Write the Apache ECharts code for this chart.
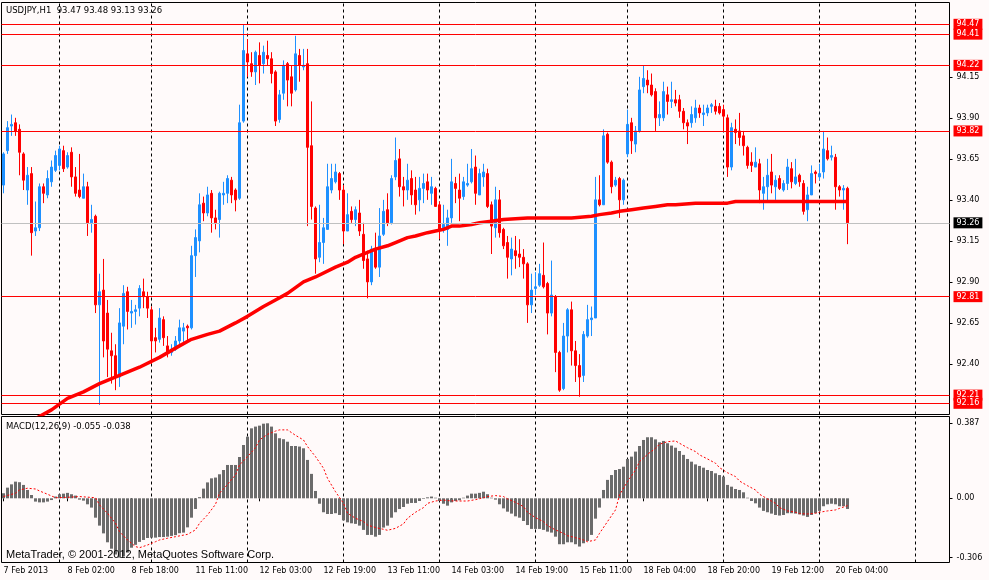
<!DOCTYPE html>
<html><head><meta charset="utf-8">
<script src="https://cdn.jsdelivr.net/npm/echarts@6/dist/echarts.min.js"></script>
<style>html,body{margin:0;padding:0;background:#fffafa;}#c{width:989px;height:580px;}</style>
</head><body><div id="c"></div>
<script>
// ---- DATA ----
const opens = [93.49,93.70,93.85,93.87,93.83,93.68,93.46,93.56,93.21,93.23,
93.48,93.43,93.51,93.58,93.61,93.70,93.60,93.69,93.54,93.46,
93.41,93.48,93.26,93.30,92.76,92.85,92.71,92.48,92.45,92.32,
92.63,92.84,92.71,92.72,92.74,92.84,92.81,92.73,92.56,92.55,
92.67,92.51,92.47,92.49,92.54,92.60,92.63,92.62,93.06,93.15,
93.38,93.32,93.44,93.29,93.28,93.43,93.44,93.52,93.46,93.41,
93.88,94.29,94.23,94.18,94.28,94.23,94.28,94.26,94.18,93.89,
94.05,94.23,94.15,94.07,94.28,94.21,94.23,93.73,93.35,93.05,
93.14,93.22,93.46,93.51,93.56,93.46,93.21,93.33,93.28,93.32,
93.19,93.04,92.90,93.10,92.99,93.19,93.34,93.26,93.54,93.65,
93.48,93.46,93.53,93.46,93.40,93.47,93.51,93.44,93.47,93.37,
93.22,93.22,93.29,93.50,93.46,93.42,93.49,93.51,93.60,93.43,
93.54,93.56,93.37,93.23,93.40,93.22,93.14,93.04,93.09,93.07,
93.05,93.01,92.76,92.86,92.88,92.94,92.89,92.71,92.81,92.47,
92.25,92.57,92.73,92.48,92.39,92.33,92.57,92.67,92.68,93.40,
93.37,93.80,93.63,93.49,93.53,93.40,93.68,93.87,93.74,93.82,
94.09,94.13,94.10,94.06,93.90,93.90,94.04,94.00,94.01,94.01,
93.94,93.87,93.87,93.90,93.96,93.92,93.93,93.97,93.97,93.97,
93.95,93.90,93.60,93.83,93.82,93.79,93.72,93.63,93.60,93.62,
93.44,93.48,93.57,93.48,93.53,93.46,93.50,93.59,93.50,93.55,
93.50,93.34,93.43,93.57,93.54,93.57,93.70,93.66,93.66,93.48,
93.46,93.47];
const highs = [93.69,93.88,93.92,93.90,93.86,93.69,93.60,93.60,93.39,93.50,
93.50,93.58,93.64,93.70,93.73,93.73,93.69,93.72,93.60,93.68,
93.56,93.51,93.37,93.31,92.95,93.04,92.79,92.59,92.52,92.74,
92.88,92.87,92.79,92.76,92.88,92.92,92.84,92.75,92.62,92.74,
92.69,92.57,92.52,92.57,92.67,92.65,92.64,93.12,93.22,93.44,
93.42,93.48,93.46,93.34,93.45,93.51,93.55,93.54,93.47,93.98,
94.47,94.38,94.30,94.31,94.36,94.34,94.37,94.30,94.19,94.07,
94.25,94.24,94.22,94.40,94.32,94.32,94.32,94.00,93.36,93.37,
93.29,93.62,93.62,93.62,93.57,93.49,93.44,93.36,93.36,93.40,
93.26,93.09,93.12,93.20,93.35,93.40,93.44,93.55,93.78,93.71,
93.54,93.62,93.58,93.54,93.54,93.56,93.56,93.54,93.48,93.39,
93.37,93.34,93.65,93.54,93.56,93.54,93.62,93.71,93.67,93.59,
93.62,93.59,93.39,93.48,93.46,93.23,93.18,93.17,93.18,93.16,
93.10,93.02,92.95,92.96,93.01,93.14,92.90,93.03,92.82,92.48,
92.65,92.74,92.78,92.54,92.46,92.60,92.76,92.75,93.54,93.55,
93.83,93.81,93.64,93.54,93.54,93.53,93.95,93.90,93.85,94.15,
94.22,94.19,94.17,94.08,94.00,94.12,94.09,94.12,94.07,94.04,
93.96,93.89,93.97,94.01,93.98,93.98,93.98,93.99,94.01,93.99,
93.98,93.92,93.87,93.89,93.93,93.82,93.73,93.69,93.72,93.65,
93.54,93.65,93.68,93.55,93.55,93.52,93.65,93.63,93.65,93.56,
93.52,93.48,93.61,93.58,93.62,93.82,93.78,93.73,93.68,93.49,
93.49,93.48];
const lows = [93.44,93.68,93.79,93.79,93.55,93.46,93.37,93.06,93.18,93.21,
93.38,93.41,93.48,93.57,93.58,93.57,93.59,93.48,93.42,93.41,
93.41,93.18,93.20,92.71,92.15,92.44,92.32,92.28,92.24,92.26,
92.52,92.61,92.62,92.64,92.69,92.74,92.68,92.40,92.47,92.53,
92.51,92.44,92.45,92.48,92.51,92.53,92.53,92.61,92.93,93.08,
93.27,93.30,93.20,93.22,93.17,93.37,93.38,93.38,93.33,93.40,
93.87,94.15,94.15,94.10,94.11,94.17,94.22,94.11,93.85,93.87,
94.01,93.97,93.97,94.06,94.12,94.19,93.24,93.28,92.95,93.02,
93.01,93.22,93.44,93.50,93.40,93.13,93.21,93.26,93.24,93.18,
92.98,92.80,92.88,92.98,92.93,93.18,93.24,93.25,93.52,93.42,
93.36,93.40,93.37,93.31,93.33,93.38,93.40,93.37,93.36,93.16,
93.20,93.12,93.26,93.38,93.27,93.40,93.48,93.50,93.37,93.43,
93.48,93.35,93.07,93.17,93.17,93.10,92.92,92.94,92.98,92.99,
92.92,92.65,92.71,92.82,92.87,92.86,92.58,92.69,92.35,92.23,
92.24,92.47,92.39,92.29,92.20,92.29,92.56,92.57,92.68,93.36,
93.37,93.62,93.44,93.48,93.29,93.37,93.66,93.68,93.69,93.81,
94.05,94.05,94.03,93.82,93.85,93.88,93.92,93.96,93.97,93.90,
93.83,93.74,93.84,93.87,93.90,93.85,93.91,93.93,93.92,93.92,
93.82,93.54,93.58,93.74,93.73,93.67,93.59,93.57,93.60,93.38,
93.34,93.39,93.44,93.40,93.46,93.45,93.46,93.47,93.49,93.48,
93.31,93.27,93.43,93.50,93.52,93.53,93.64,93.64,93.34,93.42,
93.34,93.13];
const closes = [93.68,93.84,93.86,93.82,93.69,93.52,93.55,93.20,93.23,93.48,
93.44,93.53,93.60,93.67,93.71,93.59,93.67,93.54,93.44,93.42,
93.48,93.26,93.28,92.76,92.84,92.54,92.49,92.45,92.32,92.65,
92.83,92.72,92.72,92.73,92.86,92.81,92.74,92.54,92.54,92.68,
92.56,92.47,92.49,92.54,92.62,92.62,92.62,93.06,93.17,93.37,
93.32,93.43,93.29,93.26,93.44,93.44,93.53,93.43,93.40,93.87,
94.31,94.24,94.18,94.30,94.22,94.30,94.26,94.17,93.88,94.04,
94.22,94.13,94.05,94.29,94.22,94.22,93.72,93.36,93.04,93.14,
93.23,93.48,93.53,93.57,93.46,93.21,93.31,93.28,93.34,93.21,
93.03,92.90,93.10,92.99,93.18,93.33,93.26,93.53,93.64,93.48,
93.46,93.52,93.43,93.37,93.47,93.50,93.46,93.48,93.36,93.22,
93.25,93.29,93.51,93.47,93.41,93.51,93.50,93.59,93.44,93.56,
93.57,93.36,93.24,93.40,93.20,93.12,93.05,93.10,93.06,93.05,
93.01,92.76,92.85,92.87,92.95,92.87,92.71,92.82,92.47,92.24,
92.57,92.73,92.48,92.39,92.32,92.58,92.67,92.68,93.40,93.37,
93.79,93.63,93.48,93.52,93.40,93.52,93.86,93.76,93.82,94.07,
94.14,94.10,94.04,93.90,93.92,94.06,94.00,94.01,93.99,93.94,
93.87,93.85,93.92,93.96,93.93,93.93,93.96,93.98,93.94,93.93,
93.91,93.60,93.84,93.81,93.78,93.73,93.61,93.61,93.63,93.46,
93.48,93.55,93.49,93.52,93.47,93.50,93.60,93.51,93.54,93.51,
93.33,93.43,93.56,93.56,93.56,93.71,93.65,93.67,93.48,93.46,
93.47,93.26];

// moving average read at sampled bars
const maBars = [6,12,16,20,24,29,34,39,44,47,51,54,58,61,65,68,71,75,78,83,86,88,91,93,96,98,101,103,106,108,110,112,114,117,119,122,125,131,137,142,147,149,152,154,157,160,163,166,168,173,181,183,190,200,211];
const maVals = [92.04,92.12,92.19,92.23,92.28,92.33,92.38,92.44,92.51,92.55,92.58,92.60,92.65,92.69,92.75,92.79,92.83,92.90,92.93,92.99,93.02,93.05,93.08,93.10,93.12,93.14,93.17,93.18,93.20,93.21,93.22,93.24,93.24,93.25,93.26,93.27,93.28,93.29,93.29,93.29,93.30,93.31,93.32,93.33,93.34,93.35,93.36,93.37,93.37,93.38,93.38,93.39,93.39,93.39,93.39];

const macdHist = [0.026,0.055,0.072,0.086,0.083,0.069,0.043,0.017,-0.017,-0.021,
-0.021,-0.017,-0.009,0.009,0.021,0.024,0.028,0.021,0.014,-0.007,
-0.012,-0.031,-0.048,-0.100,-0.141,-0.181,-0.227,-0.260,-0.290,-0.306,
-0.300,-0.280,-0.255,-0.240,-0.225,-0.215,-0.205,-0.203,-0.203,-0.200,
-0.200,-0.198,-0.194,-0.190,-0.180,-0.177,-0.150,-0.100,-0.055,0.006,
0.050,0.082,0.103,0.107,0.124,0.146,0.172,0.172,0.172,0.213,
0.275,0.318,0.361,0.370,0.375,0.385,0.387,0.370,0.335,0.310,
0.305,0.292,0.270,0.270,0.267,0.258,0.198,0.126,0.038,-0.028,
-0.072,-0.081,-0.081,-0.077,-0.086,-0.114,-0.124,-0.129,-0.132,-0.141,
-0.163,-0.189,-0.189,-0.198,-0.189,-0.151,-0.141,-0.100,-0.072,-0.055,
-0.045,-0.028,-0.024,-0.024,-0.014,-0.003,0.005,0.009,0.003,-0.014,
-0.028,-0.038,-0.021,-0.014,-0.010,0.003,0.014,0.024,0.024,0.028,
0.034,0.021,0.003,-0.007,-0.031,-0.052,-0.069,-0.079,-0.093,-0.100,
-0.117,-0.138,-0.158,-0.158,-0.158,-0.163,-0.172,-0.177,-0.198,-0.237,
-0.237,-0.227,-0.227,-0.237,-0.249,-0.232,-0.220,-0.189,-0.105,-0.048,
0.043,0.095,0.120,0.146,0.151,0.163,0.203,0.215,0.241,0.270,
0.301,0.315,0.315,0.304,0.289,0.296,0.284,0.272,0.261,0.244,
0.224,0.203,0.189,0.175,0.167,0.158,0.146,0.141,0.129,0.120,
0.112,0.069,0.060,0.048,0.043,0.031,0.003,-0.014,-0.026,-0.048,
-0.065,-0.072,-0.079,-0.086,-0.089,-0.086,-0.077,-0.077,-0.079,-0.083,
-0.089,-0.096,-0.086,-0.077,-0.065,-0.041,-0.031,-0.028,-0.031,-0.041,
-0.041,-0.055];

const sigBars = [0,3,4,6,8,9,11,13,16,19,23,24,26,28,29,31,33,34,36,38,39,41,43,46,48,49,51,53,54,56,58,59,61,63,64,66,68,69,71,73,75,76,78,80,81,83,85,86,88,90,91,93,95,96,98,100,101,103,105,106,108,110,111,113,115,116,118,120,121,123,125,126,128,130,131,133,135,136,138,140,141,143,145,146,148,149,151,153,154,156,158,159,161,163,164,166,168,169,171,173,174,176,178,179,181,183,184,186,188,189,191,193,194,196,198,199,201,203,204,206,208,209,211];
const sigVals = [0.009,0.026,0.043,0.052,0.048,0.038,0.021,0.003,0.005,0.009,0.003,-0.034,-0.077,-0.129,-0.172,-0.215,-0.249,-0.255,-0.241,-0.224,-0.215,-0.206,-0.198,-0.186,-0.163,-0.129,-0.086,-0.031,0.026,0.072,0.120,0.172,0.215,0.261,0.301,0.330,0.347,0.353,0.353,0.325,0.301,0.267,0.215,0.155,0.103,0.034,-0.026,-0.077,-0.103,-0.120,-0.138,-0.151,-0.160,-0.165,-0.155,-0.132,-0.103,-0.072,-0.048,-0.026,-0.014,-0.009,-0.012,-0.014,-0.014,-0.014,-0.007,0.003,0.009,0.014,0.009,-0.003,-0.021,-0.043,-0.072,-0.100,-0.120,-0.141,-0.163,-0.181,-0.193,-0.203,-0.215,-0.224,-0.215,-0.181,-0.120,-0.060,0.017,0.086,0.146,0.189,0.227,0.258,0.279,0.292,0.296,0.284,0.261,0.241,0.224,0.203,0.181,0.158,0.132,0.112,0.089,0.065,0.043,0.021,-0.003,-0.026,-0.048,-0.065,-0.072,-0.079,-0.081,-0.077,-0.072,-0.065,-0.060,-0.052,-0.038];

const priceLevels = [94.47,94.41,94.22,93.82,92.81,92.21,92.16];
const bidPrice = 93.26;
const priceTicks = [94.15,93.90,93.65,93.40,93.15,92.90,92.65,92.40];
const macdTicks = [0.387,0,-0.306];
const dayStartBars = [14,37,61,85,109,133,156,180,204,228];
const tickLabels = ["7 Feb 2013","8 Feb 02:00","8 Feb 18:00","11 Feb 11:00","12 Feb 03:00","12 Feb 19:00","13 Feb 11:00","14 Feb 03:00","14 Feb 19:00","15 Feb 11:00","18 Feb 04:00","18 Feb 20:00","19 Feb 12:00","20 Feb 04:00"];
const labelStep = 16;
const sessions = [['7 Feb',10,23],['8 Feb',0,22],['11 Feb',0,23],['12 Feb',0,23],['13 Feb',0,23],['14 Feb',0,23],['15 Feb',0,22],['18 Feb',0,23],['19 Feb',0,23],['20 Feb',0,23],['21 Feb',0,23]];
const nSlots = 237;

// ---- BUILD ----
const categories = [];
sessions.forEach(s => { for (let h = s[1]; h <= s[2]; h++) categories.push(s[0] + ' ' + (h < 10 ? '0' : '') + h + ':00'); });
categories.length = nSlots;

const candleData = opens.map((o, i) => [o, closes[i], lows[i], highs[i]]);
const maData = maBars.map((b, i) => [b, maVals[i]]);
const sigData = sigBars.map((b, i) => [b, sigVals[i]]);

const FONT = 'DejaVu Sans';
const sepMarkLine = {
  silent: true, symbol: ['none', 'none'], animation: false, z: 1,
  label: { show: false },
  lineStyle: { color: '#000', type: [3, 3], width: 1 },
  emphasis: { disabled: true },
  data: dayStartBars.map(b => ({ xAxis: b }))
};
function boxLabel(bg) {
  return {
    show: true, position: 'end', distance: 4,
    formatter: p => Number(p.value).toFixed(2),
    color: '#fff', backgroundColor: bg, padding: [1, 3, 0, 3],
    fontFamily: FONT, fontSize: 8, lineHeight: 10
  };
}
const levelLines = priceLevels.map(v => ({
  yAxis: v, lineStyle: { color: '#ff0000', width: 1, type: 'solid' }, label: boxLabel('#ff0000')
}));
levelLines.splice(4, 0, {
  yAxis: bidPrice, lineStyle: { color: '#c0c0c0', width: 1, type: 'solid' }, label: boxLabel('#000000')
});

const showTick = (idx) => idx % labelStep === 0 && idx / labelStep < tickLabels.length;

const chart = echarts.init(document.getElementById('c'), null, { renderer: 'canvas' });
chart.setOption({
  backgroundColor: '#fffafa',
  animation: false,
  textStyle: { fontFamily: FONT },
  grid: [
    { left: 1.5, top: 2.5, width: 948, height: 412, show: true, borderColor: '#000', borderWidth: 1, backgroundColor: 'transparent', containLabel: false, outerBoundsMode: 'none' },
    { left: 1.5, top: 416.5, width: 948, height: 146, show: true, borderColor: '#000', borderWidth: 1, backgroundColor: 'transparent', containLabel: false, outerBoundsMode: 'none' }
  ],
  xAxis: [
    { type: 'category', gridIndex: 0, data: categories, boundaryGap: true, show: false },
    { type: 'category', gridIndex: 1, data: categories, boundaryGap: true, position: 'bottom',
      axisLine: { show: false },
      axisTick: { show: true, alignWithLabel: true, length: 3, interval: showTick, lineStyle: { color: '#000' } },
      axisLabel: { show: true, interval: showTick, align: 'left', margin: 4, color: '#000', fontFamily: FONT, fontSize: 8,
        formatter: (val, idx) => tickLabels[idx / labelStep] },
      splitLine: { show: false } }
  ],
  yAxis: [
    { type: 'value', gridIndex: 0, position: 'right', min: 92.0918, max: 94.6029,
      axisLine: { show: false }, splitLine: { show: false },
      axisTick: { show: true, length: 3, customValues: priceTicks, lineStyle: { color: '#000' } },
      axisLabel: { show: true, customValues: priceTicks, margin: 7, color: '#000', fontFamily: FONT, fontSize: 8,
        formatter: v => Number(v).toFixed(2) } },
    { type: 'value', gridIndex: 1, position: 'right', min: -0.33127, max: 0.42208,
      axisLine: { show: false }, splitLine: { show: false },
      axisTick: { show: true, length: 3, customValues: macdTicks, lineStyle: { color: '#000' } },
      axisLabel: { show: true, customValues: macdTicks, margin: 7, color: '#000', fontFamily: FONT, fontSize: 8,
        formatter: v => (Math.abs(v) < 1e-9 ? '0.00' : Number(v).toFixed(3)) } }
  ],
  series: [
    { type: 'candlestick', xAxisIndex: 0, yAxisIndex: 0, data: candleData, barWidth: 2, z: 2,
      itemStyle: { color: '#1e90ff', color0: '#ff0000', borderColor: '#1e90ff', borderColor0: '#ff0000', borderWidth: 1 },
      emphasis: { disabled: true },
      markLine: { silent: true, symbol: ['none', 'none'], animation: false, z: 5, emphasis: { disabled: true }, data: levelLines } },
    { type: 'line', xAxisIndex: 0, yAxisIndex: 0, data: maData, showSymbol: false, smooth: false, z: 3, clip: true,
      lineStyle: { color: '#ff0000', width: 3.5 }, emphasis: { disabled: true },
      markLine: sepMarkLine },
    { type: 'bar', xAxisIndex: 1, yAxisIndex: 1, data: macdHist, barWidth: 3, z: 2,
      itemStyle: { color: '#6b6b6b' }, emphasis: { disabled: true },
      markLine: sepMarkLine },
    { type: 'line', xAxisIndex: 1, yAxisIndex: 1, data: sigData, showSymbol: false, z: 3,
      lineStyle: { color: '#ff0000', width: 1, type: [2, 2] }, emphasis: { disabled: true } }
  ],
  graphic: [
    { type: 'text', x: 6, y: 11, z: 100, style: { text: 'USDJPY,H1  93.47 93.48 93.13 93.26', fill: '#000', font: '8.5px "DejaVu Sans"', verticalAlign: 'middle', align: 'left' } },
    { type: 'text', x: 6, y: 427, z: 100, style: { text: 'MACD(12,26,9) -0.055 -0.038', fill: '#000', font: '8.5px "DejaVu Sans"', verticalAlign: 'middle', align: 'left' } },
    { type: 'text', x: 6, y: 555, z: 100, style: { text: 'MetaTrader, \u00a9 2001-2012, MetaQuotes Software Corp.', fill: '#000', font: '11px "Liberation Sans"', verticalAlign: 'middle', align: 'left' } }
  ]
});
</script>
</body></html>
